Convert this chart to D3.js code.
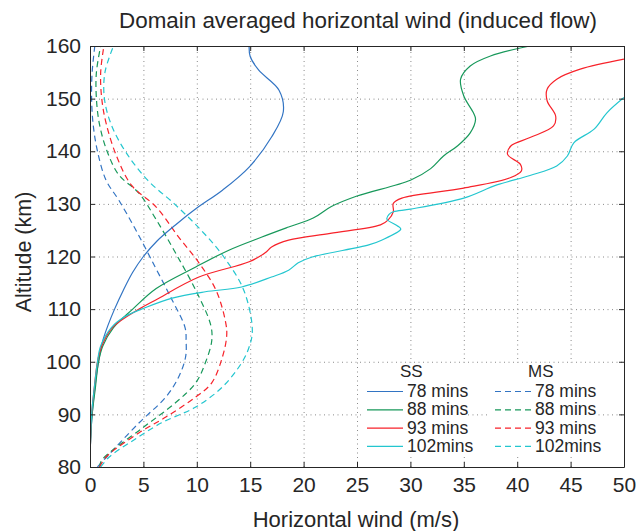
<!DOCTYPE html>
<html>
<head>
<meta charset="utf-8">
<script src="https://cdnjs.cloudflare.com/ajax/libs/d3/7.8.5/d3.min.js"></script>
<style>
  body { margin: 0; background: #fff; }
  svg text { font-family: "Liberation Sans", Arial, Helvetica, sans-serif; fill: #262626; }
</style>
</head>
<body>
<svg width="641" height="531"></svg>
<script>
// wind (m/s), altitude (km) pairs
const ss78 = [[0,80],[0.05,85],[0.2,90],[0.45,95],[0.8,100],[1.2,104],[1.7,107],[2.3,110],[3.1,113.5],[4,117],[5,120],[6.3,123],[8,126],[10,129.2],[12.4,132.6],[14.9,137],[17,142.7],[18.1,147.5],[17.7,151.6],[15.8,155.4],[15,158],[14.9,160]]
const ss88 = [[0,80],[0.05,85],[0.2,90],[0.5,95],[0.8,100],[1.2,103],[2.2,106.5],[4,110],[6.2,113.9],[9.9,118],[13,121.2],[16.1,123.7],[18.6,125.6],[20.9,127.3],[22.6,129.5],[25,131.5],[30,134.5],[31.9,136.7],[33.1,139.1],[34.4,141],[35.6,143.5],[36.1,146.1],[35.9,147.3],[35,150.5],[34.7,153.7],[35.6,156.2],[37.5,158.1],[41.2,160]]
const ss93 = [[0,80],[0.05,85],[0.15,90],[0.4,95],[0.7,100],[1.1,103],[2.1,106.5],[4.6,110],[6.2,111.8],[10.2,116.1],[14.9,119],[16.4,120.7],[17,121.8],[18.6,123.1],[22.5,124.4],[27.2,126],[27.9,126.9],[28.4,128.5],[28.4,130.1],[29.2,131.1],[35,133],[39.4,135],[40.4,136.3],[40.3,137.5],[39.1,139.4],[39.4,141],[41.2,142.6],[43.4,144.8],[43.6,146.7],[42.8,149.6],[42.8,151.8],[43.7,153.7],[45.9,155.6],[50,157.5]]
const ss102 = [[0,80],[0.05,85],[0.15,90],[0.4,95],[0.7,100],[1,103],[2,106.5],[3.2,108.5],[5.2,110.3],[7.7,112.1],[10.8,113.3],[14.2,114.2],[17,116.1],[18.6,117.4],[19.5,118.8],[20.8,119.9],[26.1,122.2],[27.3,123.1],[29.1,125.2],[28.8,125.8],[27.8,127.1],[28,128],[28.4,128.5],[30,129],[35,131.1],[38.1,133.6],[41.2,135.4],[43.7,137.2],[44.7,139.1],[45.3,141.6],[47.2,144.2],[48.4,147.3],[50,150.2]]

const ms78 = [[0.7,80],[1.6,82],[4.6,88.4],[7.1,93.3],[8.3,97.1],[8.95,100.9],[9,104],[8.9,106.5],[7.7,111.7],[6.1,118],[4.3,125],[2.7,130.7],[1.5,134.5],[0.7,140],[0.3,145],[0.15,150],[0.2,155],[0.45,160]]
const ms88 = [[0.9,80],[1.1,81.3],[4.9,87.4],[8,92.2],[9.9,96],[10.8,99.8],[11.4,104],[11.3,107],[9.9,113.6],[8,120.7],[6.2,127],[4.6,132],[2.7,135.5],[1.6,140],[0.9,145],[0.6,150],[0.6,155],[1,160]]
const ms93 = [[0.9,80],[1.5,81.9],[4.6,86.5],[7.1,89.5],[9.9,93.3],[11.4,96],[12.4,100.9],[12.8,105],[12.7,107.5],[11.8,113.6],[10.2,118.8],[8.3,123.7],[6.2,129.4],[3.9,133.5],[2.5,139],[1.5,145.4],[1.1,150],[1,155],[1.3,160]]
const ms102 = [[1,80],[1.8,81.9],[4,85],[6.7,88.4],[9.9,91.4],[12.4,95.2],[14.2,99.8],[14.9,102.8],[15.2,106],[14.4,113.6],[12.5,120],[10.4,125],[7.9,130],[5.4,134.5],[3.3,140],[2,145],[1.35,150],[1.4,155],[2.2,160]]

const labels = ["78 mins", "88 mins", "93 mins", "102mins"]
const colors = ["#3274c3", "#17985a", "#f7222a", "#23c6cf"]
const xTicks = [0, 5, 10, 15, 20, 25, 30, 35, 40, 45, 50]
const yTicks = [80, 90, 100, 110, 120, 130, 140, 150, 160]

const svg = d3.select("svg")
const m = { left: 90, right: 624, top: 46, bottom: 467 }
const w = m.right - m.left, h = m.bottom - m.top

const x = d3.scaleLinear().domain([0, 50]).range([m.left, m.right])
const y = d3.scaleLinear().domain([80, 160]).range([m.bottom, m.top])

// grid
svg.append("g")
  .attr("transform", "translate(0," + m.bottom + ")")
  .call(d3.axisBottom(x).tickValues(xTicks.slice(1, -1)).tickSize(-h).tickFormat(""))
  .call(g => g.select(".domain").remove())
  .selectAll("line").attr("stroke", "#8a8a8a").attr("stroke-dasharray", "1,3.5")
svg.append("g")
  .attr("transform", "translate(" + m.left + ",0)")
  .call(d3.axisLeft(y).tickValues(yTicks.slice(1, -1)).tickSize(-w).tickFormat(""))
  .call(g => g.select(".domain").remove())
  .selectAll("line").attr("stroke", "#8a8a8a").attr("stroke-dasharray", "1,3.5")

svg.append("clipPath").attr("id", "plot")
  .append("rect").attr("x", m.left).attr("y", m.top).attr("width", w).attr("height", h)

const line = d3.line()
  .x(d => x(d[0]))
  .y(d => y(d[1]))
  .curve(d3.curveCatmullRom.alpha(0.5))

const lines = svg.append("g").attr("clip-path", "url(#plot)")
;[ms78, ms88, ms93, ms102].forEach((s, i) => {
  lines.append("path").attr("d", line(s)).attr("fill", "none")
    .attr("stroke", colors[i]).attr("stroke-width", 1.2).attr("stroke-dasharray", "6,4")
})
;[ss78, ss88, ss93, ss102].forEach((s, i) => {
  lines.append("path").attr("d", line(s)).attr("fill", "none")
    .attr("stroke", colors[i]).attr("stroke-width", 1.2)
})

// axes with inside ticks on all sides
const styleAxis = g => {
  g.select(".domain").attr("stroke", "#262626")
  g.selectAll(".tick line").attr("stroke", "#262626")
  g.selectAll("text").style("font-size", "21px").attr("fill", "#262626")
}
svg.append("g").attr("transform", "translate(0," + m.bottom + ")")
  .call(d3.axisBottom(x).tickValues(xTicks).tickSize(-5).tickPadding(10).tickSizeOuter(0))
  .call(styleAxis)
svg.append("g").attr("transform", "translate(0," + m.top + ")")
  .call(d3.axisTop(x).tickValues(xTicks).tickSize(-5).tickFormat("").tickSizeOuter(0))
  .call(styleAxis)
svg.append("g").attr("transform", "translate(" + m.left + ",0)")
  .call(d3.axisLeft(y).tickValues(yTicks).tickSize(-5).tickPadding(9).tickSizeOuter(0))
  .call(styleAxis)
svg.append("g").attr("transform", "translate(" + m.right + ",0)")
  .call(d3.axisRight(y).tickValues(yTicks).tickSize(-5).tickFormat("").tickSizeOuter(0))
  .call(styleAxis)

// legends
const legend = (x0, title, dash) => {
  const g = svg.append("g")
  g.append("rect").attr("x", x0 - 5).attr("y", 363).attr("width", 106).attr("height", 93).attr("fill", "#fff")
  g.append("text").attr("x", x0 + 33).attr("y", 377).style("font-size", "17px").text(title)
  labels.forEach((t, i) => {
    const yy = 397 + i * 18.3
    g.append("line").attr("x1", x0).attr("x2", x0 + 36).attr("y1", yy - 5.5).attr("y2", yy - 5.5)
      .attr("stroke", colors[i]).attr("stroke-width", 1.2).attr("stroke-dasharray", dash)
    g.append("text").attr("x", x0 + 40).attr("y", yy).style("font-size", "17.5px").text(t)
  })
}
legend(367, "SS", null)
legend(495, "MS", "6,4")

svg.append("text").attr("x", 358).attr("y", 28).attr("text-anchor", "middle")
  .style("font-size", "22.4px").text("Domain averaged horizontal wind (induced flow)")
svg.append("text").attr("x", 356).attr("y", 527).attr("text-anchor", "middle")
  .style("font-size", "22px").text("Horizontal wind (m/s)")
svg.append("text").attr("transform", "translate(31,252) rotate(-90)").attr("text-anchor", "middle")
  .style("font-size", "21.5px").text("Altitude (km)")
</script>
</body>
</html>
